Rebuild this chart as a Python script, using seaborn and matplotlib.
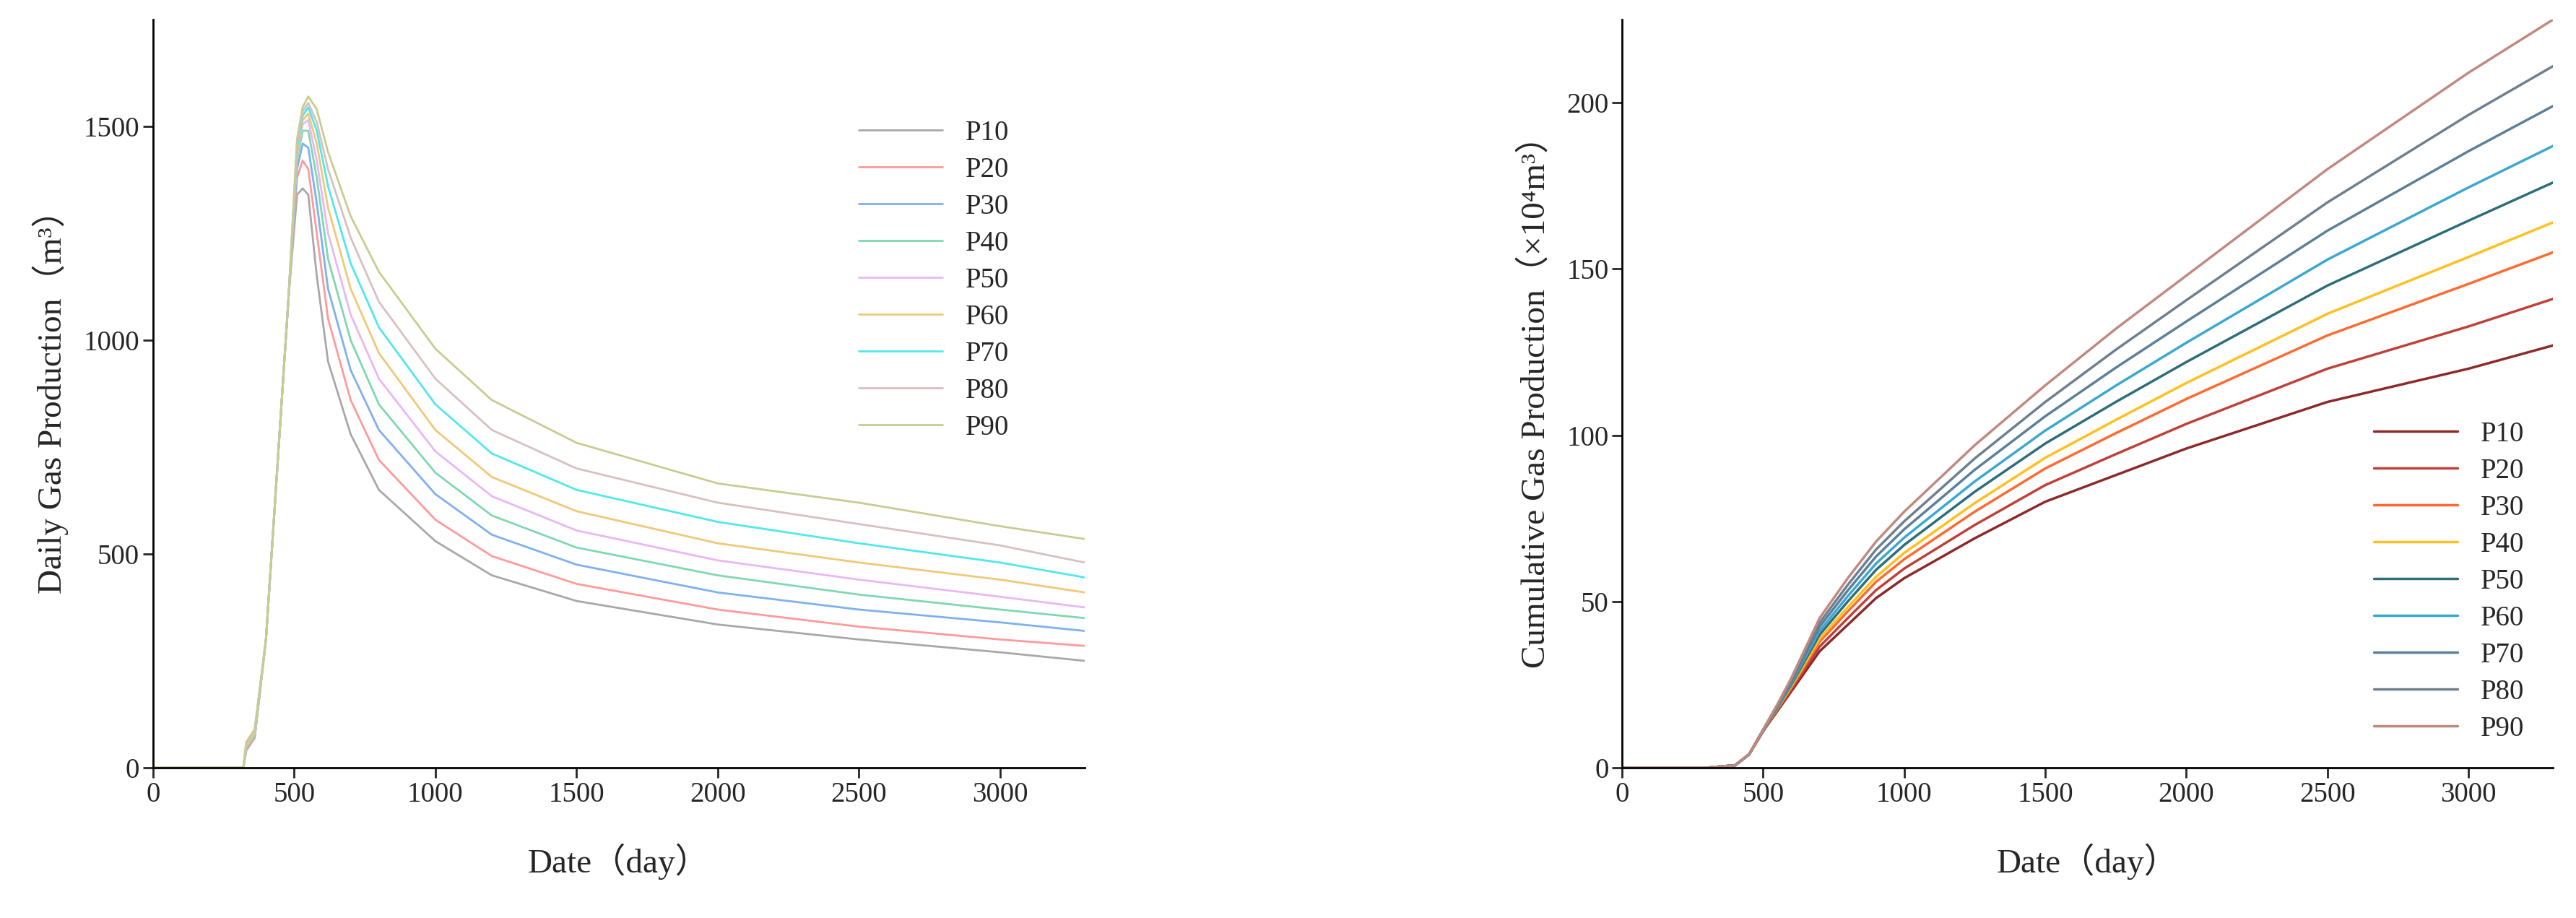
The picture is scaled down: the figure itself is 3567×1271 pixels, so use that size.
import matplotlib
matplotlib.use("Agg")
import matplotlib.pyplot as plt
import seaborn as sns
import pandas as pd

sns.set_theme(style="ticks")
plt.rcParams['font.family'] = ['Liberation Serif', 'Noto Sans CJK SC']

labels = ["P10", "P20", "P30", "P40", "P50", "P60", "P70", "P80", "P90"]

daily_days = [0, 320, 330, 360, 400, 440, 480, 510, 530, 550, 580, 620, 700, 800, 1000, 1200, 1500, 2000, 2500, 3000, 3300]
daily_p10 = [0, 0, 40, 70, 300, 700, 1100, 1340, 1355, 1340, 1150, 950, 780, 650, 530, 450, 390, 335, 300, 270, 250]
daily_p20 = [0, 0, 40, 70, 300, 700, 1100, 1380, 1420, 1400, 1250, 1050, 860, 720, 580, 495, 430, 370, 330, 300, 285]
daily_p30 = [0, 0, 45, 75, 300, 700, 1100, 1400, 1460, 1450, 1320, 1120, 930, 790, 640, 545, 475, 410, 370, 340, 320]
daily_p40 = [0, 0, 45, 75, 300, 700, 1100, 1420, 1490, 1490, 1380, 1190, 1000, 850, 690, 590, 515, 450, 405, 370, 350]
daily_p50 = [0, 0, 50, 80, 300, 700, 1100, 1430, 1505, 1515, 1420, 1250, 1060, 910, 740, 635, 555, 485, 440, 400, 375]
daily_p60 = [0, 0, 50, 80, 300, 700, 1100, 1440, 1515, 1530, 1460, 1310, 1120, 970, 790, 680, 600, 525, 480, 440, 410]
daily_p70 = [0, 0, 55, 85, 300, 700, 1100, 1450, 1525, 1545, 1490, 1360, 1180, 1030, 850, 735, 650, 575, 525, 480, 445]
daily_p80 = [0, 0, 55, 85, 300, 700, 1100, 1460, 1535, 1555, 1510, 1400, 1240, 1090, 910, 790, 700, 620, 570, 520, 480]
daily_p90 = [0, 0, 60, 90, 300, 700, 1100, 1470, 1545, 1570, 1540, 1440, 1290, 1160, 980, 860, 760, 665, 620, 565, 535]
daily_series = [daily_p10, daily_p20, daily_p30, daily_p40, daily_p50, daily_p60, daily_p70, daily_p80, daily_p90]

cum_days = [0, 300, 400, 450, 500, 550, 600, 700, 800, 900, 1000, 1250, 1500, 1750, 2000, 2500, 3000, 3300]
cum_p10 = [0, 0, 0.7, 4, 11, 17, 23, 35, 43, 51, 57, 69, 80, 88, 96, 110, 120, 127]
cum_p20 = [0, 0, 0.7, 4, 11, 17.3, 23.6, 36.4, 45, 53.4, 59.9, 73, 85, 94.3, 103.4, 120, 132.7, 141]
cum_p30 = [0, 0, 0.7, 4, 11.1, 17.6, 24.1, 37.9, 47, 55.9, 62.7, 77, 90, 100.6, 110.9, 130, 145.5, 155]
cum_p40 = [0, 0, 0.7, 4, 11.2, 17.8, 24.5, 38.8, 48.3, 57.4, 64.6, 79.6, 93.2, 104.6, 115.7, 136.5, 153.6, 164]
cum_p50 = [0, 0, 0.7, 4, 11.25, 18, 25, 40, 50, 59.5, 67, 83, 97.5, 110, 122, 145, 164.5, 176]
cum_p60 = [0, 0, 0.7, 4, 11.3, 18.2, 25.4, 41.1, 51.6, 61.4, 69.2, 86.1, 101.4, 114.9, 127.8, 152.8, 174.5, 187]
cum_p70 = [0, 0, 0.7, 4, 11.4, 18.5, 25.9, 42.4, 53.3, 63.5, 71.7, 89.6, 105.7, 120.3, 134.2, 161.5, 185.4, 199]
cum_p80 = [0, 0, 0.7, 4, 11.4, 18.7, 26.4, 43.6, 55, 65.6, 74.1, 93, 110, 125.7, 140.6, 170, 196.3, 211]
cum_p90 = [0, 0, 0.7, 4, 11.5, 19, 27, 45, 57, 68, 77, 97, 115, 132, 148, 180, 209, 225]
cum_series = [cum_p10, cum_p20, cum_p30, cum_p40, cum_p50, cum_p60, cum_p70, cum_p80, cum_p90]

daily_colors = ["#a8a8a8", "#ff9a9a", "#7fb0f0", "#7fd8b0", "#e6b8f5", "#f0c878", "#50e8ec", "#d8c0c0", "#c8cc90"]
cum_colors = ["#8c2a2a", "#c0403a", "#ff6a30", "#ffc020", "#2e6e7a", "#3aa8d0", "#5c8098", "#6e8090", "#c08a80"]

df_d = pd.DataFrame([(d, v, lab) for lab, s in zip(labels, daily_series) for d, v in zip(daily_days, s)],
                    columns=["day", "val", "series"])
df_c = pd.DataFrame([(d, v, lab) for lab, s in zip(labels, cum_series) for d, v in zip(cum_days, s)],
                    columns=["day", "val", "series"])

fig = plt.figure(figsize=(35.67, 12.71), dpi=100)
ax1 = fig.add_axes([0.0594, 0.1637, 0.3617, 0.815])
ax2 = fig.add_axes([0.6297, 0.1637, 0.3614, 0.815])

sns.lineplot(data=df_d, x="day", y="val", hue="series", palette=dict(zip(labels, daily_colors)),
             ax=ax1, linewidth=2)
sns.lineplot(data=df_c, x="day", y="val", hue="series", palette=dict(zip(labels, cum_colors)),
             ax=ax2, linewidth=2.5)

tfs = 28
for ax in (ax1, ax2):
    ax.set_xlim(0, 3300)
    ax.set_xticks([0, 500, 1000, 1500, 2000, 2500, 3000])
    ax.tick_params(labelsize=tfs, width=2, length=10, direction="out")
    for s in ("left", "bottom"):
        ax.spines[s].set_linewidth(2)
        ax.spines[s].set_color("black")
    for s in ("right", "top"):
        ax.spines[s].set_visible(False)
    ax.set_xlabel("Date（day）", fontsize=34, labelpad=35)

ax1.set_ylim(0, 1750)
ax1.set_yticks([0, 500, 1000, 1500])
ax1.set_ylabel("Daily Gas Production（m³）", fontsize=34, labelpad=15)
ax2.set_ylim(0, 225)
ax2.set_yticks([0, 50, 100, 150, 200])
ax2.set_ylabel("Cumulative Gas Production（×10⁴m³）", fontsize=34, labelpad=15)

ax1.legend(title=None, loc="upper left", bbox_to_anchor=(0.73, 0.9), frameon=False,
           fontsize=28, handlelength=3, labelspacing=0.36)
ax2.legend(title=None, loc="lower left", bbox_to_anchor=(0.78, 0.0), frameon=False,
           fontsize=28, handlelength=3, labelspacing=0.36)

fig.savefig("out.png", dpi=100)
